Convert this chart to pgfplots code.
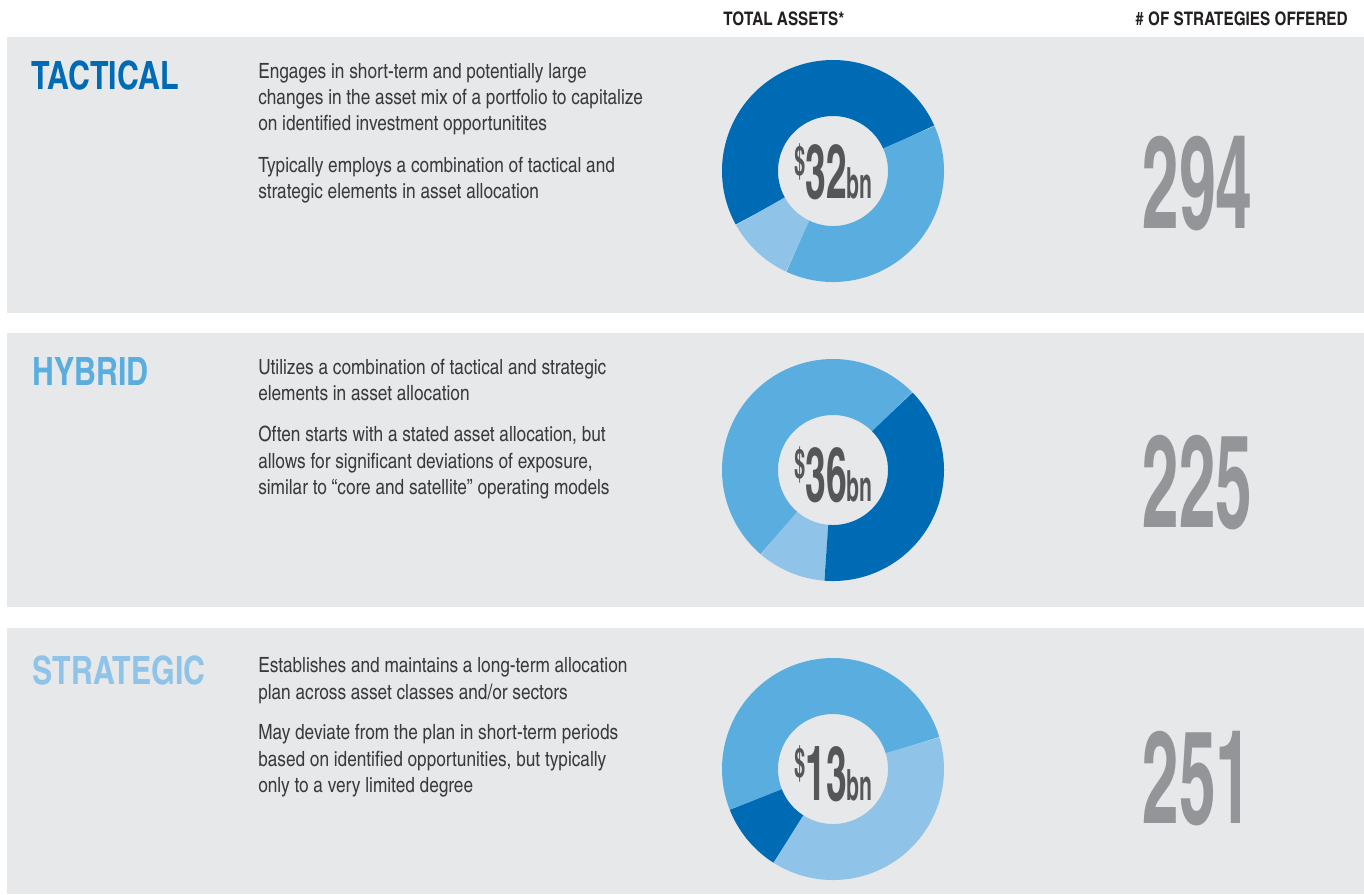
\documentclass[border=0pt]{standalone}
\usepackage{pgfplots}
\pgfplotsset{compat=1.18}
\usepgfplotslibrary{polar}
\usepackage{graphicx}
\usepackage{fontspec}
\setmainfont{TeX Gyre Heros Cn}

\definecolor{dkblue}{HTML}{006BB5}
\definecolor{mdblue}{HTML}{59AEDF}
\definecolor{ltblue}{HTML}{8FC3E8}
\definecolor{panel}{HTML}{E7E8EA}
\definecolor{bodytxt}{HTML}{3A3A3C}
\definecolor{numgray}{HTML}{939598}
\definecolor{ctrgray}{HTML}{555658}
\definecolor{headtxt}{HTML}{231F20}

\newcommand\bodyfont{\fontsize{15.75pt}{19.7pt}\selectfont\color{bodytxt}}
\newcommand\titlefont{\fontsize{29.25pt}{29.25pt}\selectfont\bfseries}
\newcommand\headfont{\fontsize{14pt}{14pt}\selectfont\bfseries\color{headtxt}}
\newcommand\rowtitle[1]{\scalebox{0.95}[1]{#1}}
\newcommand\bignum[1]{\scalebox{0.62}[1]{\fontsize{97.5pt}{97.5pt}\selectfont\bfseries\color{numgray}#1}}
\newcommand\ctr[1]{\scalebox{0.6}[1]{\bfseries\color{ctrgray}%
  \raisebox{17pt}{\fontsize{30.75pt}{30.75pt}\selectfont\$}%
  {\fontsize{57pt}{57pt}\selectfont #1}%
  {\fontsize{32.25pt}{32.25pt}\selectfont bn}}}

\pgfplotsset{
  donut/.style={hide axis, anchor=center, width=166.5pt, height=166.5pt,
    scale only axis, ymin=0, ymax=111, clip=false},
  seg/.style={draw=#1, line width=42pt, line cap=butt, samples=120, no markers},
}

\begin{document}
\begin{tikzpicture}[x=0.75pt,y=-0.75pt]
\useasboundingbox (0,0) rectangle (1364,894);
\fill[white] (0,0) rectangle (1364,894);
\fill[panel] (7,37) rectangle (1364,313);
\fill[panel] (7,333) rectangle (1364,607);
\fill[panel] (7,628) rectangle (1364,894);

\coordinate (d1) at (833,171);
\coordinate (d2) at (833,470);
\coordinate (d3) at (833,769);

% shares in %: 51.4 / 38.6 / 10.0, angles = start + 3.6*share
\begin{polaraxis}[donut, at={(d1)}]
  \addplot[seg=dkblue, domain=24:209] {83};
  \addplot[seg=ltblue, domain=209:245] {83};
  \addplot[seg=mdblue, domain=245:384] {83};
\end{polaraxis}
\begin{polaraxis}[donut, at={(d2)}]
  \addplot[seg=mdblue, domain=44.4:229.4] {83};
  \addplot[seg=ltblue, domain=229.4:265.4] {83};
  \addplot[seg=dkblue, domain=265.4:404.4] {83};
\end{polaraxis}
\begin{polaraxis}[donut, at={(d3)}]
  \addplot[seg=mdblue, domain=16.6:201.6] {83};
  \addplot[seg=dkblue, domain=201.6:237.6] {83};
  \addplot[seg=ltblue, domain=237.6:376.6] {83};
\end{polaraxis}

% headers
\node[anchor=base west, inner sep=0, font=\headfont] at (723,25) {TOTAL ASSETS*};
\node[anchor=base east, inner sep=0, font=\headfont] at (1348,25) {\# OF STRATEGIES OFFERED};

% titles
\node[anchor=base west, inner sep=0, font=\titlefont, text=dkblue] at (31,89) {\rowtitle{TACTICAL}};
\node[anchor=base west, inner sep=0, font=\titlefont, text=mdblue] at (32,385) {\rowtitle{HYBRID}};
\node[anchor=base west, inner sep=0, font=\titlefont, text=ltblue] at (32,684) {\rowtitle{STRATEGIC}};

% descriptions
\begin{scope}[every node/.style={anchor=base west, inner sep=0, font=\bodyfont}]
\node at (258,78) {Engages in short-term and potentially large};
\node at (258,104) {changes in the asset mix of a portfolio to capitalize};
\node at (258,130) {on identified investment opportunitites};
\node at (258,172) {Typically employs a combination of tactical and};
\node at (258,198) {strategic elements in asset allocation};

\node at (258,374) {Utilizes a combination of tactical and strategic};
\node at (258,400) {elements in asset allocation};
\node at (258,441) {Often starts with a stated asset allocation, but};
\node at (258,468) {allows for significant deviations of exposure,};
\node at (258,494) {similar to “core and satellite” operating models};

\node at (258,672) {Establishes and maintains a long-term allocation};
\node at (258,699) {plan across asset classes and/or sectors};
\node at (258,739) {May deviate from the plan in short-term periods};
\node at (258,766) {based on identified opportunities, but typically};
\node at (258,792) {only to a very limited degree};
\end{scope}

% centre labels
\node[anchor=base, inner sep=0] at (833.5,198) {\ctr{32}};
\node[anchor=base, inner sep=0] at (833.5,501) {\ctr{36}};
\node[anchor=base, inner sep=0] at (833.5,800) {\ctr{13}};

% number of strategies
\node[anchor=base west, inner sep=0] at (1142,228) {\bignum{294}};
\node[anchor=base west, inner sep=0] at (1142,527) {\bignum{225}};
\node[anchor=base west, inner sep=0] at (1142,823) {\bignum{251}};
\end{tikzpicture}
\end{document}
